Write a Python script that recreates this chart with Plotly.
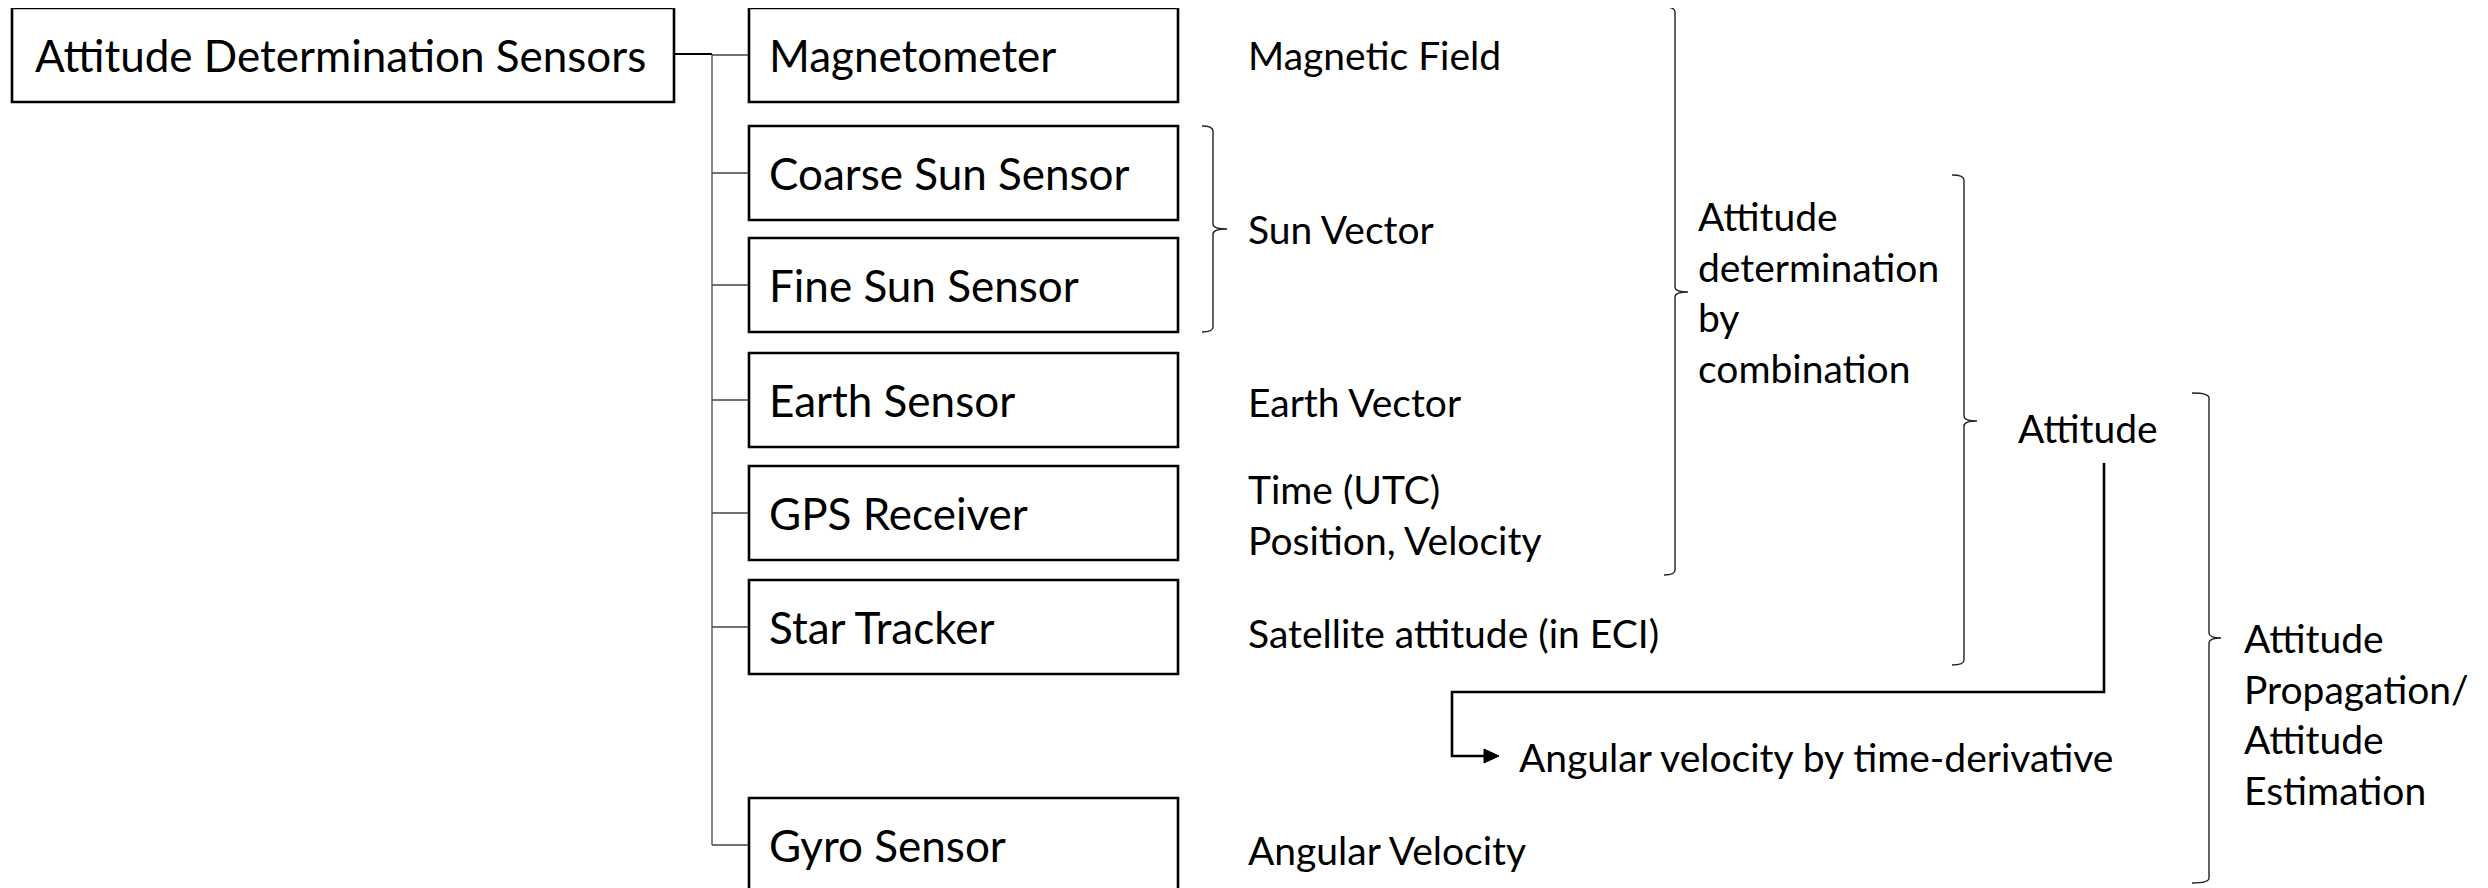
import plotly.graph_objects as go

# ---------------- data ----------------
root_label = "Attitude Determination Sensors"
sensors = ["Magnetometer", "Coarse Sun Sensor", "Fine Sun Sensor", "Earth Sensor",
           "GPS Receiver", "Star Tracker", "Gyro Sensor"]
outputs = ["Magnetic Field", "Sun Vector", "Earth Vector",
           "Time (UTC)<br>Position, Velocity", "Satellite attitude (in ECI)",
           "Angular Velocity"]
combo_label = "Attitude<br>determination<br>by<br>combination"
attitude_label = "Attitude"
derivative_label = "Angular velocity by time-derivative"
estimation_label = "Attitude<br>Propagation/<br>Attitude<br>Estimation"

# ---------------- layout constants (pixels, page coordinates) ----------------
W, H = 2488, 888
PAGE_MARGIN = 8          # default body margin of the written html page
FONT = "Lato, Carlito, Calibri, sans-serif"
BOX_FS = 44
LBL_FS = 39
box_tops = [8, 126, 238, 353, 466, 580, 798]
box_h = 94
box_x0, box_x1 = 749, 1178
root_box = (12, 8, 674, 102)
trunk_x = 712
out_y = [55, 229, 402, 514, 633, 850]
out_x = 1246

fig = go.Figure()
shapes = []
ann = []

def line(x0, y0, x1, y1, w=1.3, c="#333333"):
    shapes.append(dict(type="line", x0=x0, y0=y0, x1=x1, y1=y1, xref="x", yref="y",
                       line=dict(color=c, width=w)))

def rect(x0, y0, x1, y1):
    shapes.append(dict(type="rect", x0=x0, y0=y0, x1=x1, y1=y1, xref="x", yref="y",
                       line=dict(color="#000000", width=2.6), fillcolor="white"))

def text(x, y, s, fs, xanchor="left"):
    ann.append(dict(x=x, y=y, xref="x", yref="y", text=s, showarrow=False,
                    xanchor=xanchor, yanchor="middle", align="left",
                    font=dict(family=FONT, size=fs, color="#000000")))

def brace(x0, ytop, ybot, ymid, w1=11, w2=13, r=5):
    xv = x0 + w1
    xt = xv + w2
    p = (f"M {x0},{ytop} Q {xv},{ytop} {xv},{ytop + r} "
         f"L {xv},{ymid - r} Q {xv},{ymid} {xt},{ymid} "
         f"Q {xv},{ymid} {xv},{ymid + r} "
         f"L {xv},{ybot - r} Q {xv},{ybot} {x0},{ybot}")
    shapes.append(dict(type="path", path=p, xref="x", yref="y",
                       line=dict(color="#222222", width=1.4)))

# root box + connectors
rx0, ry0, rx1, ry1 = root_box
rect(rx0, ry0, rx1, ry1)
text(33, (ry0 + ry1) / 2, root_label, BOX_FS)
line(rx1, 54, trunk_x, 54, w=2.2, c="#000000")
centers = [t + box_h / 2 for t in box_tops]
line(trunk_x, 54, trunk_x, centers[-1], w=1.3, c="#444444")
for lab, t in zip(sensors, box_tops):
    cy = t + box_h / 2
    line(trunk_x, cy, box_x0, cy, w=1.3, c="#444444")
    rect(box_x0, t, box_x1, t + box_h)
    text(767, cy, lab, BOX_FS)

# output labels
for lab, y in zip(outputs, out_y):
    text(out_x, y, lab, LBL_FS)

# braces
brace(1202, 126, 332, 229, w1=11, w2=14)
brace(1664, 7, 575, 292, w1=11, w2=13)
text(1696, 292, combo_label, LBL_FS)
brace(1952, 175, 665, 421, w1=12, w2=13)
text(2016, 428, attitude_label, LBL_FS)
brace(2192, 393, 883, 638, w1=17, w2=12)
text(2242, 714, estimation_label, LBL_FS)

# derivative arrow
ap = "M 2104,463 L 2104,692 L 1452,692 L 1452,756 L 1486,756"
shapes.append(dict(type="path", path=ap, xref="x", yref="y",
                   line=dict(color="#000000", width=2.6)))
shapes.append(dict(type="path", path="M 1484,749 L 1499,756 L 1484,763 Z",
                   xref="x", yref="y", fillcolor="#000000",
                   line=dict(color="#000000", width=1)))
text(1517, 757, derivative_label, LBL_FS)

fig.update_layout(
    width=W - PAGE_MARGIN, height=H - PAGE_MARGIN,
    margin=dict(l=0, r=0, t=0, b=0),
    paper_bgcolor="white", plot_bgcolor="white",
    xaxis=dict(range=[PAGE_MARGIN, W], visible=False, fixedrange=True),
    yaxis=dict(range=[H, PAGE_MARGIN], visible=False, fixedrange=True),
    shapes=shapes, annotations=ann, showlegend=False,
)
fig.write_html("out.html")
